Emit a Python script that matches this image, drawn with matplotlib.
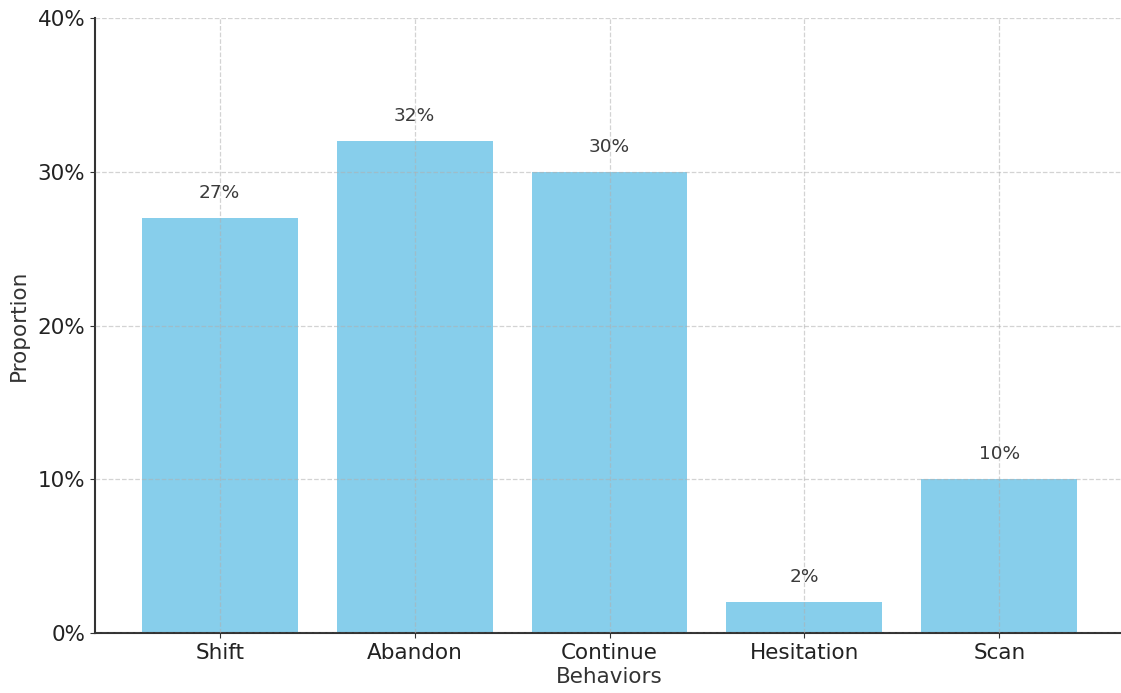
import matplotlib
matplotlib.use("Agg")
import matplotlib.pyplot as plt
from matplotlib.ticker import PercentFormatter

behaviors = ["Shift", "Abandon", "Continue", "Hesitation", "Scan"]
proportions = [0.27, 0.32, 0.30, 0.02, 0.10]
y_ticks = [0.0, 0.1, 0.2, 0.3, 0.4]

fig = plt.figure(figsize=(11.21, 6.93), dpi=100)
ax = fig.add_axes([95 / 1121, 1 - 633 / 693, (1124 - 95) / 1121, (633 - 18) / 693])

bars = ax.bar(behaviors, proportions, color="#87CEEB", width=0.8, zorder=1)
ax.grid(True, linestyle="--", color="#b0b0b0", alpha=0.55, linewidth=0.9, zorder=2)
ax.set_axisbelow(False)

for rect, v in zip(bars, proportions):
    ax.annotate(f"{v:.0%}", (rect.get_x() + rect.get_width() / 2, v),
                xytext=(0, 18), textcoords="offset points",
                ha="center", va="center", fontsize=13.3, color="#3a3a3a")

ax.set_ylim(0, 0.4)
ax.set_yticks(y_ticks)
ax.yaxis.set_major_formatter(PercentFormatter(1.0, decimals=0))
ax.tick_params(axis="both", labelsize=15.5, color="#333333", labelcolor="#222222")
ax.set_xlabel("Behaviors", fontsize=15.5, color="#333333", labelpad=3)
ax.set_ylabel("Proportion", fontsize=15.5, color="#333333", labelpad=6)

for side in ("top", "right"):
    ax.spines[side].set_visible(False)
for side in ("left", "bottom"):
    ax.spines[side].set_color("#333333")
    ax.spines[side].set_linewidth(1.5)

fig.savefig("out.png", dpi=100)
